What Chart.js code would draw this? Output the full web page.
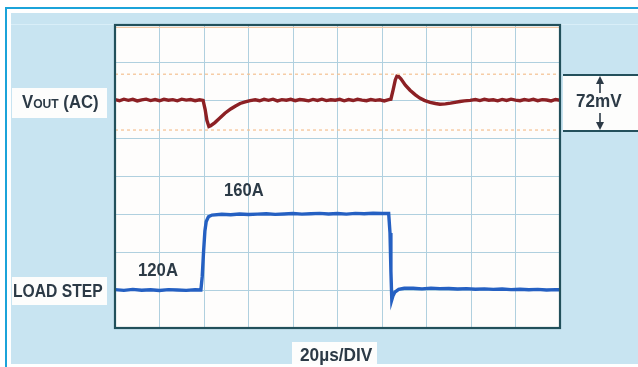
<!DOCTYPE html>
<html>
<head>
<meta charset="utf-8">
<script src="https://cdn.jsdelivr.net/npm/chart.js@4/dist/chart.umd.min.js"></script>
<style>
  html, body { margin:0; padding:0; background:#fff; width:638px; height:367px; overflow:hidden; }
  #wrap { position:relative; width:638px; height:367px; }
  .bg { position:absolute; left:11px; top:13px; width:627px; height:351px; background:#c8e4f1; }
  .bg-line { position:absolute; left:11px; top:24px; width:627px; height:1px; background:#d9eef8; }
  .bord-top { position:absolute; left:5px; top:7px; width:633px; height:2px; background:#1ba3d9; }
  .bord-left { position:absolute; left:5px; top:7px; width:2px; height:360px; background:#1ba3d9; }
  canvas { position:absolute; left:0; top:0; }
  .box { position:absolute; background:#fdfdfc; }
  .lbl { position:absolute; font-family:"Liberation Sans", Arial, sans-serif; font-weight:bold; color:#2c3a46;
         line-height:1; white-space:nowrap; transform-origin:0 0; }
  .hline { position:absolute; height:2px; background:#24505c; }
</style>
</head>
<body>
<div id="wrap">
  <div class="bg"></div>
  <div class="bg-line"></div>
  <div class="bord-top"></div>
  <div class="bord-left"></div>
  <div class="box" style="left:12px;top:88px;width:95px;height:30px;"></div>
  <div class="box" style="left:12px;top:277px;width:95px;height:28px;"></div>
  <div class="box" style="left:292px;top:342px;width:85px;height:22px;"></div>
  <div class="box" style="left:563px;top:75px;width:75px;height:56px;"></div>
  <canvas id="c" width="638" height="367"></canvas>
  <div class="hline" style="left:563px;top:74px;width:75px;"></div>
  <div class="hline" style="left:563px;top:130px;width:75px;"></div>
  <svg style="position:absolute;left:590px;top:75px;" width="20" height="56">
    <line x1="10" y1="3" x2="10" y2="18" stroke="#2c3a46" stroke-width="1.6"/>
    <polygon points="10,1 6,9 14,9" fill="#2c3a46"/>
    <line x1="10" y1="38" x2="10" y2="53" stroke="#2c3a46" stroke-width="1.6"/>
    <polygon points="10,55 6,47 14,47" fill="#2c3a46"/>
  </svg>
  <div class="lbl" style="left:22px;top:93px;font-size:18px;transform:scaleX(0.93);">V<span style="font-size:13px;">OUT</span> (AC)</div>
  <div class="lbl" style="left:13px;top:282px;font-size:18px;transform:scaleX(0.87);">LOAD STEP</div>
  <div class="lbl" style="left:138px;top:261px;font-size:18px;transform:scaleX(0.93);">120A</div>
  <div class="lbl" style="left:224px;top:181px;font-size:18px;transform:scaleX(0.92);">160A</div>
  <div class="lbl" style="left:300px;top:346px;font-size:18px;transform:scaleX(0.96);">20µs/DIV</div>
  <div class="lbl" style="left:576px;top:92px;font-size:18px;transform:scaleX(0.95);">72mV</div>
</div>
<script>
// ---- data (time in µs, Vout ripple in mV, load in A) ----
const voutTime = [0,2,4,6,8,10,12,14,16,18,20,22,24,26,28,30,32,34,36,38,
  39.6,40.5,41.3,42.2,43,44.9,47,49.4,52,54,56.2,58.5,60.7,
  63,65,67,69,71,73,75,77,79,81,83,85,87,89,91,93,95,97,99,101,103,105,107,109,111,113,115,117,119,121,123,
  124,125,126,126.7,127.5,128.5,130.5,132.6,135,137,139,141.6,144,146,148.5,150.8,152.8,155,157,159.6,
  162,164,166,168,170,172,174,176,178,180,182,184,186,188,190,192,194,196,198,200];
const voutMv = [2.5,1,3,1.5,2.8,0.8,2.2,3,1.2,2.6,1,2.9,1.6,2.4,0.9,3,1.8,2.5,1.1,2.3,
  1.5,-10,-24,-32,-31,-27,-21.5,-15,-9.5,-6,-2.5,-0.5,1.2,
  2.2,1,2.8,1.5,3,0.8,2.4,1.7,2.9,1.1,2.5,1.9,0.9,2.7,1.4,3,1.2,2.3,1.6,2.8,0.9,2.5,1.3,2.9,1.8,1,2.6,1.5,2.2,0.8,2.4,
  3,15,28,32.5,32,29,21,14.5,8.5,4.5,1.5,-1,-2.5,-3.5,-3,-2,-1,0,0.8,1.5,
  2.5,1.2,2.9,1.6,2.2,0.9,2.7,1.4,3,1.8,1,2.6,1.5,2.8,1.1,2.4,1.9,0.8,2.6,1.7];
const loadTime = [0,4,8,12,16,20,24,28,32,36,38.6,39.2,39.8,40.4,41,42,43.6,
  48,52,56,60,64,68,72,76,80,84,88,92,96,100,104,108,112,116,120,
  123,123.6,124,124.4,124.9,125.8,127.5,130,
  134,138,142,146,150,154,158,162,166,170,174,178,182,186,190,194,198,200];
const loadAmps = [120.2,119.8,120.3,119.9,120.1,119.7,120.2,120,119.8,120.1,120,127,140,151,156,158.5,159.4,
  159.8,159.6,160,159.7,159.9,160.1,159.8,160,160.2,159.9,160.1,160.3,160,160.2,159.9,160.3,160.1,160.4,160.2,
  160.2,150,130,114.8,116.8,118.9,120.3,120.9,
  120.9,120.6,121,120.7,120.8,120.5,120.7,120.4,120.6,120.3,120.5,120.2,120.4,120.1,120.3,120,120.2,120.1];
const limitMv = [35, -36.5];   // dashed reference levels (±36 mV window)
const xDivs = [0,20,40,60,80,100,120,140,160,180,200];

const toPts = (xs, ys) => xs.map((x, i) => ({x, y: ys[i]}));

const plotFrame = {
  id: 'plotFrame',
  beforeDraw(chart) {
    const a = chart.chartArea, ctx = chart.ctx;
    ctx.save();
    ctx.fillStyle = '#fefdfc';
    ctx.fillRect(a.left, a.top, a.right - a.left, a.bottom - a.top);
    ctx.restore();
  },
  afterDraw(chart) {
    const a = chart.chartArea, ctx = chart.ctx;
    ctx.save();
    ctx.strokeStyle = '#f3c9a6';
    ctx.lineWidth = 1;
    ctx.beginPath(); ctx.moveTo(a.left, a.top + 2.5); ctx.lineTo(a.right, a.top + 2.5); ctx.stroke();
    ctx.strokeStyle = '#22505b';
    ctx.lineWidth = 2.2;
    ctx.strokeRect(a.left, a.top, a.right - a.left, a.bottom - a.top);
    ctx.restore();
  }
};

new Chart(document.getElementById('c'), {
  type: 'line',
  data: {
    datasets: [
      { data: toPts([0,200],[limitMv[0],limitMv[0]]), yAxisID: 'yv', borderColor: '#f4c090', borderWidth: 1.2, borderDash: [3,3], pointRadius: 0 },
      { data: toPts([0,200],[limitMv[1],limitMv[1]]), yAxisID: 'yv', borderColor: '#f4c090', borderWidth: 1.2, borderDash: [3,3], pointRadius: 0 },
      { data: toPts(voutTime, voutMv), yAxisID: 'yv', borderColor: '#8c2024', borderWidth: 3.4, pointRadius: 0, tension: 0 },
      { data: toPts(loadTime, loadAmps), yAxisID: 'yi', borderColor: '#2560c2', borderWidth: 3.4, pointRadius: 0, tension: 0 }
    ]
  },
  options: {
    responsive: false,
    animation: false,
    layout: { padding: { left: 115, right: 78, top: 25, bottom: 39 } },
    plugins: { legend: { display: false }, tooltip: { enabled: false } },
    scales: {
      x: { type: 'linear', min: 0, max: 200,
           afterBuildTicks: s => { s.ticks = xDivs.map(v => ({value: v})); },
           ticks: { display: false }, border: { display: false },
           grid: { color: '#b0d0df', lineWidth: 1, drawTicks: false } },
      y: { type: 'linear', min: 0, max: 8, position: 'left',
           ticks: { display: false, stepSize: 1 }, border: { display: false },
           grid: { color: '#b0d0df', lineWidth: 1, drawTicks: false } },
      yv: { type: 'linear', min: -290, max: 98, display: false },
      yi: { type: 'linear', min: 100, max: 259.4, display: false }
    }
  },
  plugins: [plotFrame]
});
</script>
</body>
</html>
